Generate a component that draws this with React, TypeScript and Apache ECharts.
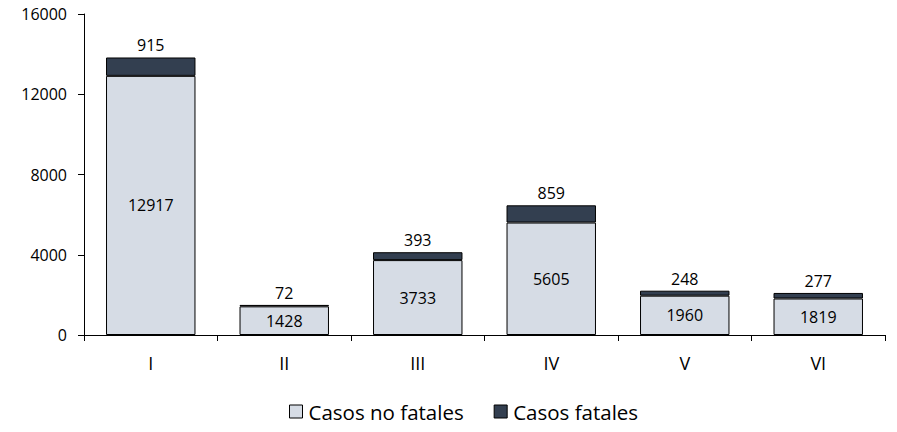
import React, { useEffect, useRef } from "react";
import * as echarts from "echarts";

const categories = ["I", "II", "III", "IV", "V", "VI"];
const noFatales = [12917, 1428, 3733, 5605, 1960, 1819];
const fatales = [915, 72, 393, 859, 248, 277];
const yTicks = [0, 4000, 8000, 12000, 16000];

export default function App() {
  const ref = useRef<HTMLDivElement>(null);
  useEffect(() => {
    if (!ref.current) return;
    const chart = echarts.init(ref.current, undefined, { renderer: "svg" });
    const font = "'Open Sans', 'Noto Sans', sans-serif";
    chart.setOption({
      animation: false,
      textStyle: { fontFamily: font },
      grid: { left: 84, right: 12, top: 14, bottom: 97, containLabel: false },
      legend: {
        bottom: 5,
        left: 284,
        padding: [5, 5, 5, 5],
        itemWidth: 13,
        itemHeight: 13,
        itemGap: 30,
        icon: "rect",
        textStyle: { fontSize: 20.5, color: "#000", fontFamily: font, padding: [0, 0, 0, 1] },
        data: [
          { name: "Casos no fatales", itemStyle: { borderColor: "#000", borderWidth: 1 } },
          { name: "Casos fatales", itemStyle: { borderColor: "#000", borderWidth: 1 } },
        ],
      },
      xAxis: {
        type: "category",
        data: categories,
        axisLine: { lineStyle: { color: "#000", width: 1 } },
        axisTick: { show: true, length: 6, lineStyle: { color: "#000" } },
        axisLabel: { fontSize: 18, color: "#000", margin: 19 },
      },
      yAxis: {
        type: "value",
        min: yTicks[0],
        max: yTicks[yTicks.length - 1],
        interval: 4000,
        splitLine: { show: false },
        axisLine: { show: true, lineStyle: { color: "#000", width: 1 } },
        axisTick: { show: true, length: 6, lineStyle: { color: "#000" } },
        axisLabel: { fontSize: 16, color: "#000", margin: 17, formatter: (v: number) => String(v) },
      },
      series: [
        {
          name: "Casos no fatales",
          type: "bar",
          stack: "total",
          data: noFatales,
          barCategoryGap: "33%",
          itemStyle: { color: "#d6dce5", borderColor: "#000", borderWidth: 1 },
          label: { show: true, position: "inside", fontSize: 16, color: "#000" },
        },
        {
          name: "Casos fatales",
          type: "bar",
          stack: "total",
          data: fatales,
          itemStyle: { color: "#333f50", borderColor: "#000", borderWidth: 1 },
          label: { show: true, position: "top", fontSize: 16, color: "#000", distance: 4 },
        },
      ],
    });
    return () => chart.dispose();
  }, []);
  return <div ref={ref} style={{ width: 897, height: 432, position: "absolute", left: 0, top: 0 }} />;
}
